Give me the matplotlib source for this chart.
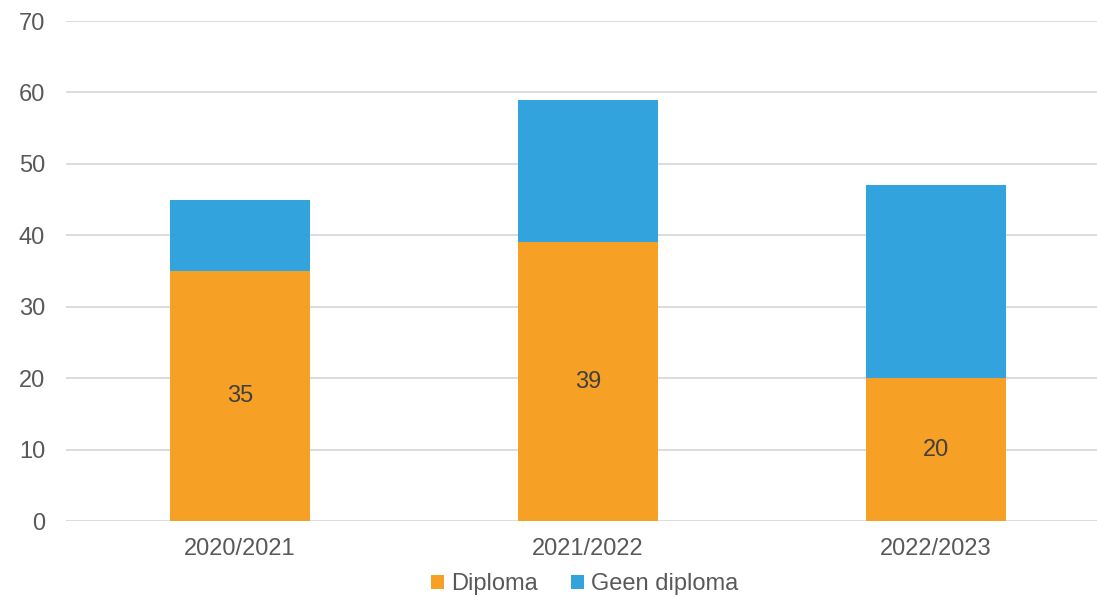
import matplotlib.pyplot as plt
import numpy as np

plt.rcParams['font.family'] = ['Liberation Sans', 'DejaVu Sans']

years = ['2020/2021', '2021/2022', '2022/2023']
diploma = [35, 39, 20]
geen_diploma = [10, 20, 27]

orange = '#F7A026'
blue = '#32A3DC'
text_col = '#595959'

fig = plt.figure(figsize=(10.97, 5.98), dpi=100)
# plot area runs past the right edge, as in the reference
ax = fig.add_axes([66 / 1097, 77 / 598, 1044 / 1097, 500 / 598])

x = np.arange(len(years))
ax.bar(x, diploma, width=0.4, color=orange, label='Diploma', zorder=3)
ax.bar(x, geen_diploma, width=0.4, bottom=diploma, color=blue, label='Geen diploma', zorder=3)

for xi, v in zip(x, diploma):
    ax.text(xi, v / 2, str(v), ha='center', va='center', fontsize=17, color='#404040', zorder=4)

ax.set_xlim(-0.5, 2.5)
ax.set_ylim(0, 70)
ax.set_yticks(range(0, 71, 10))
ax.set_xticks(x)
ax.set_xticklabels(years)
ax.grid(axis='y', color='#D9D9D9', linewidth=1.3, zorder=0)
for s in ax.spines.values():
    s.set_visible(False)
ax.tick_params(length=0, labelsize=17, colors=text_col)
ax.tick_params(axis='y', pad=15)
ax.tick_params(axis='x', pad=12)

ax.legend(loc='center', bbox_to_anchor=((585 - 66) / 1044, -(584 - 521) / 500), ncol=2, frameon=False,
          fontsize=17, labelcolor=text_col, handlelength=0.55, handleheight=0.55,
          handletextpad=0.3, columnspacing=1.4)

fig.savefig('out.png', dpi=100)
